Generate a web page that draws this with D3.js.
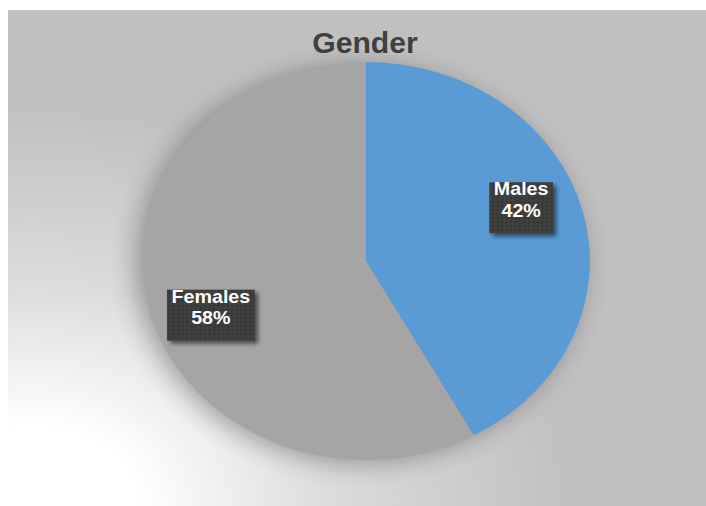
<!DOCTYPE html>
<html>
<head>
<meta charset="utf-8">
<script src="https://cdn.jsdelivr.net/npm/d3@7"></script>
<style>
  html, body { margin: 0; padding: 0; background: #fff; }
  svg { display: block; }
</style>
</head>
<body>
<script>
// Chart content
const chartTitle = "Gender";
const categories = ["Males", "Females"];
const shares = [42, 58];
const sliceColors = ["#5B9BD5", "#A5A5A5"];

// Layout
const W = 706, H = 506;
const cx = 366, cy = 261, R = 199, sx = 1.125;
const font = "'Liberation Sans', Arial, sans-serif";

const svg = d3.select("body").append("svg").attr("width", W).attr("height", H);
const defs = svg.append("defs");

// Soft light wash in the lower-left of the chart area
const glow = defs.append("radialGradient").attr("id", "glow")
  .attr("gradientUnits", "userSpaceOnUse")
  .attr("cx", 0).attr("cy", 0).attr("r", 1)
  .attr("gradientTransform", "translate(30,506) scale(540,400)");
[[0, 1], [0.2, 1], [0.55, 0.45], [1, 0]].forEach(([o, a]) =>
  glow.append("stop").attr("offset", o).attr("stop-color", "#fff").attr("stop-opacity", a));

// Blurred shadow under the pie
defs.append("filter").attr("id", "pieShadow")
  .attr("x", "-30%").attr("y", "-30%").attr("width", "160%").attr("height", "160%")
  .append("feGaussianBlur").attr("stdDeviation", 12);

// Drop shadow for label boxes
defs.append("filter").attr("id", "boxShadow")
  .attr("x", "-20%").attr("y", "-20%").attr("width", "150%").attr("height", "150%")
  .append("feDropShadow")
  .attr("dx", 3).attr("dy", 3).attr("stdDeviation", 2)
  .attr("flood-color", "#000").attr("flood-opacity", 0.55);

// Fine dotted texture for label boxes
const grain = defs.append("pattern").attr("id", "grain")
  .attr("patternUnits", "userSpaceOnUse").attr("width", 4).attr("height", 4);
grain.append("rect").attr("width", 4).attr("height", 4).attr("fill", "#3c3c3c");
grain.append("circle").attr("cx", 1).attr("cy", 1).attr("r", 0.8).attr("fill", "#4a4a4a");
grain.append("circle").attr("cx", 3).attr("cy", 3).attr("r", 0.8).attr("fill", "#333");

// Chart area
svg.append("rect").attr("x", 8).attr("y", 10).attr("width", W - 8).attr("height", H - 10)
  .attr("fill", "#c0c0c0");
svg.append("rect").attr("x", 8).attr("y", 10).attr("width", W - 8).attr("height", H - 10)
  .attr("fill", "url(#glow)");

// Title
svg.append("g").attr("transform", "translate(365,53) scale(1.04,1)")
  .append("text")
  .attr("text-anchor", "middle")
  .attr("font-family", font).attr("font-weight", "bold").attr("font-size", 29)
  .attr("fill", "#404040")
  .text(chartTitle);

// Pie
const data = categories.map((c, i) => ({ name: c, value: shares[i], color: sliceColors[i] }));
const pie = d3.pie().value(d => d.value).sort(null).startAngle(0).endAngle(2 * Math.PI);
const arcs = pie(data);
const arc = d3.arc().innerRadius(0).outerRadius(R);

const g = svg.append("g").attr("transform", `translate(${cx},${cy}) scale(${sx},1)`);

g.append("path")
  .attr("d", arc({ startAngle: 0, endAngle: 2 * Math.PI }))
  .attr("transform", "translate(-6,4)")
  .attr("fill", "#000").attr("opacity", 0.3)
  .attr("filter", "url(#pieShadow)");

g.selectAll("path.slice").data(arcs).join("path")
  .attr("class", "slice")
  .attr("d", arc)
  .attr("fill", d => d.data.color);

// Data labels
const labelR = 148;
const labels = g.selectAll("g.label").data(arcs).join("g")
  .attr("class", "label")
  .attr("transform", d => {
    const a = (d.startAngle + d.endAngle) / 2 - 0.12;
    return `translate(${Math.sin(a) * labelR},${-Math.cos(a) * labelR})`;
  });

labels.append("rect")
  .attr("fill", "url(#grain)")
  .attr("filter", "url(#boxShadow)");

labels.append("text")
  .attr("text-anchor", "middle").attr("y", -12)
  .attr("font-family", font).attr("font-weight", "bold").attr("font-size", 17.5)
  .attr("fill", "#fff")
  .text(d => d.data.name);
labels.append("text")
  .attr("text-anchor", "middle").attr("y", 9.5)
  .attr("font-family", font).attr("font-weight", "bold").attr("font-size", 17.5)
  .attr("fill", "#fff")
  .text(d => d3.format(".0f")(d.value) + "%");

labels.each(function () {
  const sel = d3.select(this);
  const w = Math.max(...sel.selectAll("text").nodes().map(n => n.getComputedTextLength())) + 8;
  sel.select("rect").attr("x", -w / 2).attr("y", -25).attr("width", w).attr("height", 51);
});
</script>
</body>
</html>
